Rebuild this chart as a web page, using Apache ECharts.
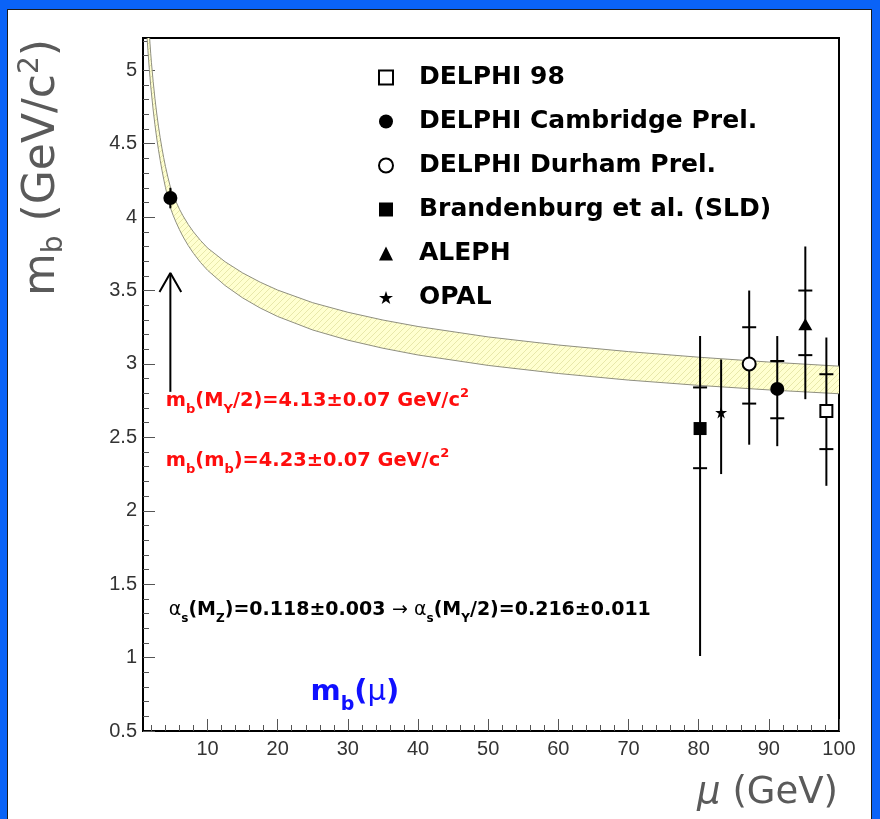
<!DOCTYPE html>
<html>
<head>
<meta charset="utf-8">
<title>m_b running mass</title>
<script src="https://cdn.jsdelivr.net/npm/echarts@6.0.0/dist/echarts.min.js"></script>
<style>
  html, body { margin:0; padding:0; width:880px; height:819px; overflow:hidden; background:#0a63f7; }
  #frame { position:absolute; left:7px; top:9px; width:865px; height:830px; background:#fff; border:1px solid #1b1b1b; box-sizing:border-box; }
  #chart { position:absolute; left:0; top:0; width:880px; height:819px; }
</style>
</head>
<body>
<div id="frame"></div>
<div id="chart"></div>
<script>
// ---------------- data ----------------
const bandMu    = [1.2, 1.3, 1.4, 1.5, 1.6, 1.7, 1.8, 1.9, 2.0, 2.25, 2.5, 2.75, 3.0, 3.25, 3.5, 3.75, 4.0, 4.35, 4.73, 5.1, 5.5, 6, 6.5, 7.25, 8, 9, 10, 12.5, 15, 17.5, 20, 25, 30, 35, 40, 50, 60, 70, 80, 90, 100];
const bandUpper = [5.726, 5.612, 5.509, 5.415, 5.329, 5.251, 5.180, 5.115, 5.055, 4.923, 4.809, 4.709, 4.620, 4.541, 4.470, 4.405, 4.346, 4.272, 4.200, 4.152, 4.106, 4.054, 4.009, 3.950, 3.899, 3.841, 3.790, 3.696, 3.620, 3.557, 3.503, 3.417, 3.352, 3.299, 3.255, 3.184, 3.129, 3.084, 3.046, 3.013, 2.985];
const bandLower = [5.386, 5.292, 5.209, 5.135, 5.069, 5.007, 4.950, 4.895, 4.845, 4.729, 4.629, 4.539, 4.460, 4.387, 4.320, 4.259, 4.202, 4.130, 4.060, 4.012, 3.966, 3.914, 3.867, 3.806, 3.753, 3.691, 3.638, 3.534, 3.450, 3.381, 3.323, 3.231, 3.162, 3.107, 3.061, 2.990, 2.935, 2.890, 2.854, 2.823, 2.797];

const xTickValues  = [10, 20, 30, 40, 50, 60, 70, 80, 90, 100];
const xMinorValues = [2,4,6,8,12,14,16,18,22,24,26,28,32,34,36,38,42,44,46,48,52,54,56,58,62,64,66,68,72,74,76,78,82,84,86,88,92,94,96,98];
const yTickValues  = [0.5, 1, 1.5, 2, 2.5, 3, 3.5, 4, 4.5, 5];
const yMinorValues = [0.6,0.7,0.8,0.9,1.1,1.2,1.3,1.4,1.6,1.7,1.8,1.9,2.1,2.2,2.3,2.4,2.6,2.7,2.8,2.9,3.1,3.2,3.3,3.4,3.6,3.7,3.8,3.9,4.1,4.2,4.3,4.4,4.6,4.7,4.8,4.9,5.1,5.2];

const experimentNames = ['DELPHI 98', 'DELPHI Cambridge Prel.', 'DELPHI Durham Prel.', 'Brandenburg et al. (SLD)', 'ALEPH', 'OPAL'];

// [mu, value, innerLow, innerHigh, outerLow, outerHigh]
const delphi98        = [[98.2, 2.68, 2.42, 2.93, 2.17, 3.18]];
const delphiCambridge = [[4.7, 4.13, null, null, 4.06, 4.20], [91.2, 2.83, 2.63, 3.02, 2.44, 3.19]];
const delphiDurham    = [[87.2, 3.00, 2.73, 3.25, 2.45, 3.50]];
const sld             = [[80.2, 2.56, 2.29, 2.84, 1.01, 3.19]];
const aleph           = [[95.2, 3.27, 3.06, 3.50, 2.76, 3.80]];
const opal            = [[83.2, 2.67, null, null, 2.25, 3.03]];

const arrowShaft = [[4.7, 2.81], [4.7, 3.62]];
const arrowHead  = [[3.15, 3.49], [4.7, 3.62], [6.25, 3.49]];

// annotation anchors [mu, value]
const noteRed1Pos  = [3.98, 2.745];
const noteRed2Pos  = [3.98, 2.336];
const noteAlphaPos = [4.4, 1.321];
const noteBluePos  = [24.6, 0.765];

// ---------------- styling ----------------
const FONT = 'DejaVu Sans';
const STAR = 'path://M50,0 L61.8,35.4 L100,35.4 L69.1,57.3 L80.9,92.7 L50,70.8 L19.1,92.7 L30.9,57.3 L0,35.4 L38.2,35.4 Z';

function hatch() {
  const c = document.createElement('canvas');
  c.width = 6; c.height = 6;
  const g = c.getContext('2d');
  g.fillStyle = '#ffffd0';
  g.fillRect(0, 0, 6, 6);
  g.strokeStyle = '#e8e8aa';
  g.lineWidth = 1;
  g.beginPath();
  g.moveTo(0, 6); g.lineTo(6, 0);
  g.moveTo(-1, 1); g.lineTo(1, -1);
  g.moveTo(5, 7); g.lineTo(7, 5);
  g.stroke();
  return c;
}
const HATCH = hatch();

function richFor(color, size) {
  const sub = Math.round(size * 0.65);
  const lh = Math.round(size * 1.5);
  return {
    n: { fontFamily: FONT, fontWeight: 'bold', fontSize: size, color: color, lineHeight: lh, verticalAlign: 'middle' },
    a: { fontFamily: FONT, fontWeight: 'normal', fontSize: size, color: color, lineHeight: lh, verticalAlign: 'middle' },
    s: { fontFamily: FONT, fontWeight: 'bold', fontSize: sub, color: color, lineHeight: Math.round(sub * 1.1), verticalAlign: 'bottom' },
    u: { fontFamily: FONT, fontWeight: 'bold', fontSize: sub, color: color, lineHeight: Math.round(sub * 1.1), verticalAlign: 'top' }
  };
}

function note(pos, text, color, size) {
  return {
    value: pos,
    label: { show: true, position: 'right', distance: 0, opacity: 1, formatter: text, rich: richFor(color, size) }
  };
}

const allPoints = [].concat(delphi98, delphiCambridge, delphiDurham, sld, aleph, opal);
const xy = arr => arr.map(d => [d[0], d[1]]);
const bandData = bandMu.map((m, i) => [m, bandLower[i], bandUpper[i]]);

const chart = echarts.init(document.getElementById('chart'), null, { renderer: 'canvas' });

const axisNameRich = {
  n: { fontFamily: FONT, fontSize: 44, color: '#5a5a5a', lineHeight: 52, verticalAlign: 'middle' },
  s: { fontFamily: FONT, fontSize: 28, color: '#5a5a5a', lineHeight: 30, verticalAlign: 'bottom' },
  u: { fontFamily: FONT, fontSize: 28, color: '#5a5a5a', lineHeight: 30, verticalAlign: 'top' }
};

const option = {
  animation: false,
  backgroundColor: 'transparent',
  grid: { left: 143, right: 41, top: 38, bottom: 88, show: true, borderColor: '#000', borderWidth: 2, backgroundColor: 'transparent', containLabel: false },
  legend: {
    orient: 'vertical', left: 373, top: 60, itemGap: 19, itemWidth: 14, itemHeight: 14,
    selectedMode: false,
    textStyle: { fontFamily: FONT, fontWeight: 'bold', fontSize: 25, color: '#000', padding: [0, 0, 0, 21] },
    data: [
      { name: experimentNames[0], icon: 'rect', itemStyle: { color: '#fff', borderColor: '#000', borderWidth: 2 } },
      { name: experimentNames[1], icon: 'circle', itemStyle: { color: '#000', borderWidth: 0 } },
      { name: experimentNames[2], icon: 'circle', itemStyle: { color: '#fff', borderColor: '#000', borderWidth: 2 } },
      { name: experimentNames[3], icon: 'rect', itemStyle: { color: '#000', borderWidth: 0 } },
      { name: experimentNames[4], icon: 'triangle', itemStyle: { color: '#000', borderWidth: 0 } },
      { name: experimentNames[5], icon: STAR, itemStyle: { color: '#000', borderWidth: 0 } }
    ]
  },
  xAxis: [
    {
      type: 'value', min: 0.8, max: 100, position: 'bottom',
      name: '{m|μ}{n| (GeV)}', nameLocation: 'end', nameGap: -1,
      nameTextStyle: {
        align: 'right', verticalAlign: 'top', padding: [40, 0, 0, 0],
        rich: {
          m: { fontFamily: FONT, fontSize: 37, fontStyle: 'italic', color: '#5a5a5a', lineHeight: 44 },
          n: { fontFamily: FONT, fontSize: 37, color: '#5a5a5a', lineHeight: 44 }
        }
      },
      axisLine: { show: true, onZero: false, lineStyle: { color: '#000', width: 2 } },
      axisTick: { show: true, inside: true, length: 12, customValues: xTickValues, lineStyle: { color: '#555', width: 1 } },
      axisLabel: { show: true, customValues: xTickValues, margin: 8, fontFamily: 'Liberation Sans', fontSize: 20, color: '#333' },
      splitLine: { show: false }
    },
    {
      type: 'value', min: 0.8, max: 100, position: 'bottom',
      axisLine: { show: false },
      axisTick: { show: true, inside: true, length: 6, customValues: xMinorValues, lineStyle: { color: '#555', width: 1 } },
      axisLabel: { show: false },
      splitLine: { show: false }
    }
  ],
  yAxis: [
    {
      type: 'value', min: 0.5, max: 5.22, position: 'left',
      name: '{n|m}{s|b}{n| (GeV/c}{u|2}{n|)}', nameLocation: 'end', nameGap: -1, nameRotate: 90,
      nameTextStyle: { align: 'right', verticalAlign: 'bottom', padding: [0, 0, 74, 0], rich: axisNameRich },
      axisLine: { show: true, onZero: false, lineStyle: { color: '#000', width: 2 } },
      axisTick: { show: true, inside: true, length: 12, customValues: yTickValues, lineStyle: { color: '#555', width: 1 } },
      axisLabel: { show: true, customValues: yTickValues, margin: 6, fontFamily: 'Liberation Sans', fontSize: 20, color: '#333' },
      splitLine: { show: false }
    },
    {
      type: 'value', min: 0.5, max: 5.22, position: 'left',
      axisLine: { show: false },
      axisTick: { show: true, inside: true, length: 6, customValues: yMinorValues, lineStyle: { color: '#555', width: 1 } },
      axisLabel: { show: false },
      splitLine: { show: false }
    }
  ],
  series: [
    {
      name: 'band', type: 'custom', z: 1, silent: true, clip: true,
      data: [0],
      renderItem: function (params, api) {
        const up = bandData.map(d => api.coord([d[0], d[2]]));
        const lo = bandData.map(d => api.coord([d[0], d[1]]));
        const poly = up.concat(lo.slice().reverse());
        const cs = params.coordSys;
        return {
          type: 'group',
          clipPath: { type: 'rect', shape: { x: cs.x, y: cs.y, width: cs.width, height: cs.height } },
          children: [
            { type: 'polygon', shape: { points: poly }, style: { fill: { image: HATCH, repeat: 'repeat' }, stroke: null } },
            { type: 'polyline', shape: { points: up }, style: { stroke: '#8f8f80', lineWidth: 1, fill: null } },
            { type: 'polyline', shape: { points: lo }, style: { stroke: '#8f8f80', lineWidth: 1, fill: null } }
          ]
        };
      }
    },
    {
      name: 'arrowShaft', type: 'line', data: arrowShaft, symbol: 'none', z: 4, silent: true,
      lineStyle: { color: '#000', width: 2 }
    },
    {
      name: 'arrowHead', type: 'line', data: arrowHead, symbol: 'none', z: 4, silent: true,
      lineStyle: { color: '#000', width: 2 }
    },
    {
      name: 'errors', type: 'custom', z: 3, silent: true,
      data: allPoints,
      encode: { x: 0, y: 1 },
      renderItem: function (params, api) {
        const mu = api.value(0);
        const top = api.coord([mu, api.value(5)]);
        const bot = api.coord([mu, api.value(4)]);
        const children = [{
          type: 'line', shape: { x1: top[0], y1: top[1], x2: bot[0], y2: bot[1] },
          style: { stroke: '#000', lineWidth: 2 }
        }];
        [2, 3].forEach(function (k) {
          const v = api.value(k);
          if (v != null && !isNaN(v)) {
            const p = api.coord([mu, v]);
            children.push({
              type: 'line', shape: { x1: p[0] - 7, y1: p[1], x2: p[0] + 7, y2: p[1] },
              style: { stroke: '#000', lineWidth: 2 }
            });
          }
        });
        return { type: 'group', children: children };
      }
    },
    { name: experimentNames[0], type: 'scatter', z: 5, data: xy(delphi98), symbol: 'rect', symbolSize: 12,
      itemStyle: { color: '#fff', borderColor: '#000', borderWidth: 2, opacity: 1 } },
    { name: experimentNames[1], type: 'scatter', z: 5, data: xy(delphiCambridge), symbol: 'circle', symbolSize: 14,
      itemStyle: { color: '#000', opacity: 1 } },
    { name: experimentNames[2], type: 'scatter', z: 5, data: xy(delphiDurham), symbol: 'circle', symbolSize: 13,
      itemStyle: { color: '#fff', borderColor: '#000', borderWidth: 2, opacity: 1 } },
    { name: experimentNames[3], type: 'scatter', z: 5, data: xy(sld), symbol: 'rect', symbolSize: 13,
      itemStyle: { color: '#000', opacity: 1 } },
    { name: experimentNames[4], type: 'scatter', z: 5, data: xy(aleph), symbol: 'triangle', symbolSize: [14, 12],
      itemStyle: { color: '#000', opacity: 1 } },
    { name: experimentNames[5], type: 'scatter', z: 5, data: xy(opal), symbol: STAR, symbolSize: 12,
      itemStyle: { color: '#000', opacity: 1 } },
    {
      name: 'notes', type: 'scatter', z: 6, silent: true, symbol: 'circle', symbolSize: 1,
      itemStyle: { color: 'rgba(0,0,0,0)', opacity: 1 },
      data: [
        note(noteRed1Pos, '{n|m}{s|b}{n|(M}{s|Υ}{n|/2)=4.13±0.07 GeV/c}{u|2}', '#ff0d0d', 19.4),
        note(noteRed2Pos, '{n|m}{s|b}{n|(m}{s|b}{n|)=4.23±0.07 GeV/c}{u|2}', '#ff0d0d', 19.4),
        note(noteAlphaPos, '{a|α}{s|s}{n|(M}{s|Z}{n|)=0.118±0.003 }{a|→ α}{s|s}{n|(M}{s|Υ}{n|/2)=0.216±0.011}', '#000', 19),
        note(noteBluePos, '{n|m}{s|b}{n|(}{a|μ}{n|)}', '#1010ff', 29)
      ]
    }
  ]
};

chart.setOption(option);
</script>
</body>
</html>
